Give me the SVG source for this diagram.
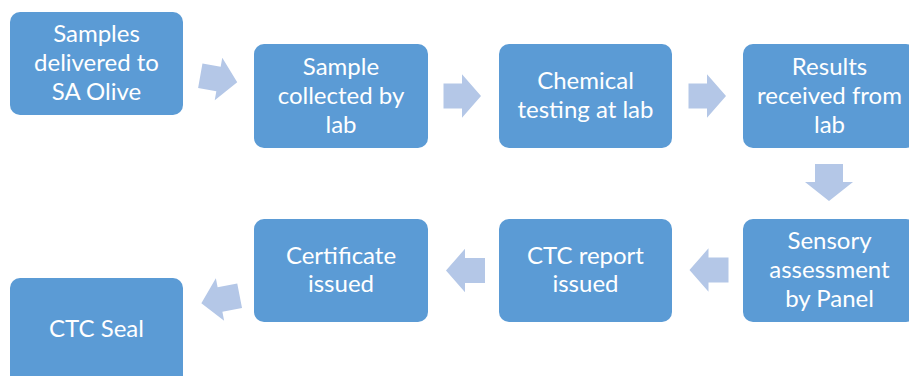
<svg xmlns="http://www.w3.org/2000/svg" xmlns:xlink="http://www.w3.org/1999/xlink" width="909" height="376" viewBox="0 0 909 376">
<style>
.box{fill:#5B9BD5;}
.lbl{font-family:Lato,"Open Sans","Liberation Sans",sans-serif;font-size:24px;fill:#FFFFFF;text-anchor:middle;}
.arr{fill:#B4C7E7;}
</style>
<defs>
<polygon id="rarrow" points="-18.5,-12.5 0,-12.5 0,-21.7 19,0 0,21.7 0,12.5 -18.5,12.5"/>
<polygon id="larrow" points="-19,0 0,-21.7 0,-12.5 20,-12.5 20,12.5 0,12.5 0,21.7"/>
</defs>
<rect width="909" height="376" fill="#FFFFFF"/>
<g id="connectors">
<use xlink:href="#rarrow" class="arr" transform="translate(218.5,79) rotate(10)"/>
<use xlink:href="#rarrow" class="arr" transform="translate(462,96)"/>
<use xlink:href="#rarrow" class="arr" transform="translate(707,96)"/>
<polygon class="arr" points="815,164 843,164 843,182 853,182 829,201 805,182 815,182"/>
<use xlink:href="#larrow" class="arr" transform="translate(708.5,270)"/>
<use xlink:href="#larrow" class="arr" transform="translate(465,270.5)"/>
<use xlink:href="#larrow" class="arr" transform="translate(220,299.5) rotate(-11)"/>
</g>
<g id="n1"><rect class="box" x="10" y="12" width="173" height="103" rx="10"/>
<text class="lbl" x="96.5" y="42">Samples</text><text class="lbl" x="96.5" y="71">delivered to</text><text class="lbl" x="96.5" y="100">SA Olive</text></g>
<g id="n2"><rect class="box" x="254" y="44" width="174" height="104" rx="10"/>
<text class="lbl" x="341" y="75">Sample</text><text class="lbl" x="341" y="104">collected by</text><text class="lbl" x="341" y="133">lab</text></g>
<g id="n3"><rect class="box" x="499" y="44" width="173" height="104" rx="10"/>
<text class="lbl" x="585.5" y="89">Chemical</text><text class="lbl" x="585.5" y="118">testing at lab</text></g>
<g id="n4"><rect class="box" x="743" y="44" width="173" height="104" rx="10"/>
<text class="lbl" x="829.5" y="75">Results</text><text class="lbl" x="829.5" y="104">received from</text><text class="lbl" x="829.5" y="133">lab</text></g>
<g id="n5"><rect class="box" x="743" y="219" width="173" height="103" rx="10"/>
<text class="lbl" x="829.5" y="249">Sensory</text><text class="lbl" x="829.5" y="278">assessment</text><text class="lbl" x="829.5" y="307">by Panel</text></g>
<g id="n6"><rect class="box" x="499" y="219" width="173" height="103" rx="10"/>
<text class="lbl" x="585.5" y="263.5">CTC report</text><text class="lbl" x="585.5" y="292">issued</text></g>
<g id="n7"><rect class="box" x="254" y="219" width="174" height="103" rx="10"/>
<text class="lbl" x="341" y="263.5">Certificate</text><text class="lbl" x="341" y="292">issued</text></g>
<g id="n8"><rect class="box" x="10" y="278" width="173" height="110" rx="10"/>
<text class="lbl" x="96.5" y="337">CTC Seal</text></g>
</svg>
